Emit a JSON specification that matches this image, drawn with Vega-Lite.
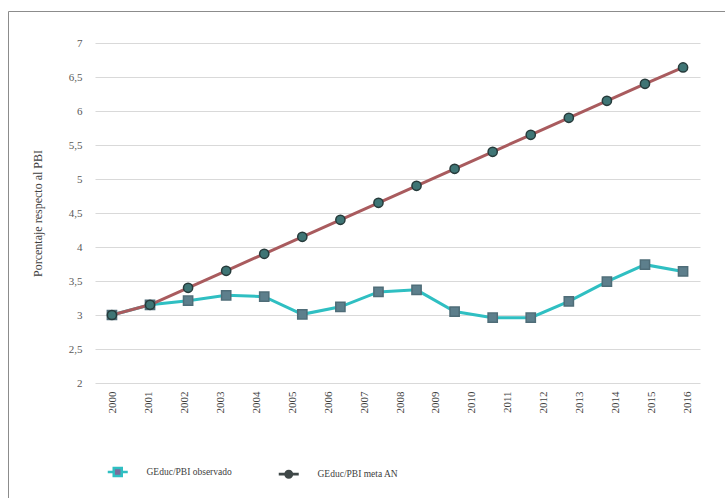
{
  "$schema": "https://vega.github.io/schema/vega-lite/v6.json",
  "width": 720,
  "height": 492,
  "autosize": {"type": "none"},
  "padding": {"left": 8, "top": 11, "right": 0, "bottom": 0},
  "background": "white",
  "config": {
    "view": {"stroke": "#8c8c8c", "strokeWidth": 1},
    "font": "Liberation Serif"
  },
  "datasets": {
    "series": [
      {"year": "2000", "serie": "GEduc/PBI observado", "value": 3.0},
      {"year": "2001", "serie": "GEduc/PBI observado", "value": 3.15},
      {"year": "2002", "serie": "GEduc/PBI observado", "value": 3.21},
      {"year": "2003", "serie": "GEduc/PBI observado", "value": 3.29},
      {"year": "2004", "serie": "GEduc/PBI observado", "value": 3.27},
      {"year": "2005", "serie": "GEduc/PBI observado", "value": 3.01},
      {"year": "2006", "serie": "GEduc/PBI observado", "value": 3.12},
      {"year": "2007", "serie": "GEduc/PBI observado", "value": 3.34},
      {"year": "2008", "serie": "GEduc/PBI observado", "value": 3.37},
      {"year": "2009", "serie": "GEduc/PBI observado", "value": 3.05},
      {"year": "2010", "serie": "GEduc/PBI observado", "value": 2.96},
      {"year": "2011", "serie": "GEduc/PBI observado", "value": 2.96},
      {"year": "2012", "serie": "GEduc/PBI observado", "value": 3.2},
      {"year": "2013", "serie": "GEduc/PBI observado", "value": 3.49},
      {"year": "2014", "serie": "GEduc/PBI observado", "value": 3.74},
      {"year": "2015", "serie": "GEduc/PBI observado", "value": 3.64},
      {"year": "2000", "serie": "GEduc/PBI meta AN", "value": 3.0},
      {"year": "2001", "serie": "GEduc/PBI meta AN", "value": 3.15},
      {"year": "2002", "serie": "GEduc/PBI meta AN", "value": 3.4},
      {"year": "2003", "serie": "GEduc/PBI meta AN", "value": 3.65},
      {"year": "2004", "serie": "GEduc/PBI meta AN", "value": 3.9},
      {"year": "2005", "serie": "GEduc/PBI meta AN", "value": 4.15},
      {"year": "2006", "serie": "GEduc/PBI meta AN", "value": 4.4},
      {"year": "2007", "serie": "GEduc/PBI meta AN", "value": 4.65},
      {"year": "2008", "serie": "GEduc/PBI meta AN", "value": 4.9},
      {"year": "2009", "serie": "GEduc/PBI meta AN", "value": 5.15},
      {"year": "2010", "serie": "GEduc/PBI meta AN", "value": 5.4},
      {"year": "2011", "serie": "GEduc/PBI meta AN", "value": 5.65},
      {"year": "2012", "serie": "GEduc/PBI meta AN", "value": 5.9},
      {"year": "2013", "serie": "GEduc/PBI meta AN", "value": 6.15},
      {"year": "2014", "serie": "GEduc/PBI meta AN", "value": 6.4},
      {"year": "2015", "serie": "GEduc/PBI meta AN", "value": 6.64}
    ],
    "labels": [
      {"year": "2000"}, {"year": "2001"}, {"year": "2002"}, {"year": "2003"},
      {"year": "2004"}, {"year": "2005"}, {"year": "2006"}, {"year": "2007"},
      {"year": "2008"}, {"year": "2009"}, {"year": "2010"}, {"year": "2011"},
      {"year": "2012"}, {"year": "2013"}, {"year": "2014"}, {"year": "2015"},
      {"year": "2016"}
    ]
  },
  "layer": [
    {
      "data": {"name": "series"},
      "encoding": {
        "x": {
          "field": "year",
          "type": "ordinal",
          "axis": null,
          "scale": {"type": "point", "range": [87, 692], "padding": 0.445}
        },
        "y": {
          "field": "value",
          "type": "quantitative",
          "scale": {"domain": [2, 7], "range": [372, 32], "nice": false, "zero": false},
          "axis": {
            "title": "Porcentaje respecto al PBI",
            "values": [2, 2.5, 3, 3.5, 4, 4.5, 5, 5.5, 6, 6.5, 7],
            "labelExpr": "replace(format(datum.value, '~g'), '.', ',')",
            "offset": -87,
            "domain": false,
            "ticks": false,
            "labelPadding": 13,
            "labelFont": "Liberation Serif",
            "labelFontSize": 11,
            "labelColor": "#595959",
            "gridColor": "#d9d9d9",
            "gridWidth": 1,
            "titleX": -58,
            "titleY": 202,
            "titleAngle": 270,
            "titleAlign": "center",
            "titleBaseline": "middle",
            "titleFont": "Liberation Serif",
            "titleFontSize": 12,
            "titleFontWeight": "normal",
            "titleColor": "#404040"
          }
        }
      },
      "layer": [
        {
          "mark": {"type": "line", "strokeWidth": 3},
          "encoding": {
            "color": {
              "field": "serie",
              "type": "nominal",
              "sort": ["GEduc/PBI observado", "GEduc/PBI meta AN"],
              "scale": {
                "domain": ["GEduc/PBI observado", "GEduc/PBI meta AN"],
                "range": ["#2fbfc2", "#a95b5e"]
              },
              "legend": {
                "orient": "none",
                "legendX": 105,
                "legendY": 456,
                "direction": "horizontal",
                "title": null,
                "symbolSize": 400,
                "symbolStrokeWidth": 3,
                "labelOffset": 24,
                "columnPadding": 46,
                "labelFont": "Liberation Serif",
                "labelFontSize": 9.5,
                "labelColor": "#404040",
                "encode": {
                  "symbols": {
                    "update": {
                      "shape": {"signal": "datum.value === 'GEduc/PBI observado' ? 'M-1,0H-0.4M0.4,0H1M-0.4,-0.4H0.4V0.4H-0.4Z' : 'M-1,-0.14H-0.4V0.14H-1Z M0.4,-0.14H1V0.14H0.4Z M0.45,0A0.45,0.45,0,1,1,-0.45,0A0.45,0.45,0,1,1,0.45,0Z'"},
                      "fill": {"signal": "datum.value === 'GEduc/PBI observado' ? '#7a6e9c' : '#3f4848'"},
                      "strokeWidth": {"signal": "datum.value === 'GEduc/PBI observado' ? 2.5 : 0"},
                      "opacity": {"value": 1}
                    }
                  }
                }
              }
            }
          }
        },
        {
          "transform": [{"filter": "datum.serie === 'GEduc/PBI observado'"}],
          "mark": {"type": "point", "shape": "square", "filled": true, "size": 85, "strokeWidth": 1.5, "opacity": 1, "fill": "#5d7f8c", "stroke": "#4f6d78"}
        },
        {
          "transform": [{"filter": "datum.serie === 'GEduc/PBI meta AN'"}],
          "mark": {"type": "point", "shape": "circle", "filled": true, "size": 85, "strokeWidth": 1.5, "opacity": 1, "fill": "#3f7575", "stroke": "#263b3b"}
        }
      ]
    },
    {
      "data": {"name": "labels"},
      "mark": {"type": "rule", "strokeOpacity": 0},
      "encoding": {
        "x": {
          "field": "year",
          "type": "ordinal",
          "scale": {"type": "point", "range": [87, 697], "padding": 0.5},
          "axis": {
            "title": null,
            "orient": "bottom",
            "offset": -120,
            "domain": false,
            "ticks": false,
            "grid": false,
            "labelAngle": -90,
            "labelPadding": 8,
            "labelFont": "Liberation Serif",
            "labelFontSize": 11,
            "labelColor": "#404040"
          }
        }
      }
    }
  ],
  "resolve": {"scale": {"x": "independent"}}
}
